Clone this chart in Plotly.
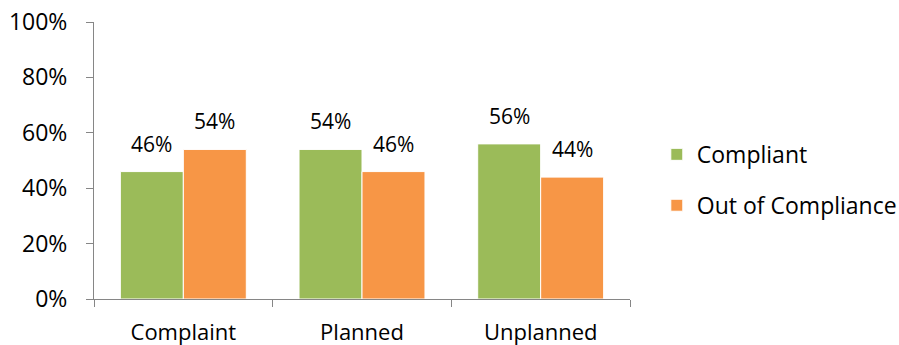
import plotly.graph_objects as go

categories = ["Complaint", "Planned", "Unplanned"]
compliant = [46, 54, 56]
out_of_compliance = [54, 46, 44]
y_ticks = [0, 20, 40, 60, 80, 100]
y_tick_labels = [f"{v}%" for v in y_ticks]

GREEN = "#9BBB59"
ORANGE = "#F79646"
AXIS = "#868686"
FAMILY = "Open Sans"
BARGAP = 0.295


def font(size):
    return dict(family=FAMILY, size=size, color="#000000")


fig = go.Figure()
series = [
    ("Compliant", compliant, GREEN, "a"),
    ("Out of Compliance", out_of_compliance, ORANGE, "b"),
]
for name, vals, color, grp in series:
    fig.add_trace(go.Bar(
        name=name,
        x=categories,
        y=vals,
        marker=dict(color=color, line=dict(color="#ffffff", width=1)),
        legendgroup=grp,
        offsetgroup=grp,
    ))

# value labels above each bar
n_series = len(series)
group_frac = 1 - BARGAP
for i, (name, vals, color, grp) in enumerate(series):
    offset = (-group_frac / 2) + group_frac / n_series * (i + 0.5)
    for j, v in enumerate(vals):
        fig.add_annotation(
            x=j + offset, y=v, xref="x", yref="y",
            text=f"{v}%", showarrow=False,
            yanchor="bottom", yshift=12,
            font=font(21),
        )

fig.update_layout(
    width=899,
    height=345,
    margin=dict(l=94, r=269, t=22, b=46, autoexpand=False),
    paper_bgcolor="white",
    plot_bgcolor="white",
    barmode="group",
    bargap=BARGAP,
    bargroupgap=0,
    font=font(22),
    showlegend=True,
    legend=dict(
        x=1.05, y=0.43, xanchor="left", yanchor="middle",
        font=font(23), tracegroupgap=18, traceorder="grouped",
        itemwidth=30,
    ),
    xaxis=dict(
        type="category", automargin=False,
        showline=True, linecolor=AXIS, linewidth=1,
        ticks="outside", tickson="boundaries", ticklen=7, tickcolor=AXIS,
        showgrid=False, tickfont=font(22), ticklabelstandoff=14,
    ),
    yaxis=dict(
        range=[0, 100], tickvals=y_ticks, ticktext=y_tick_labels,
        automargin=False,
        showline=True, linecolor=AXIS, linewidth=1,
        ticks="outside", ticklen=7, tickcolor=AXIS,
        showgrid=False, zeroline=False, tickfont=font(23),
        ticklabelstandoff=14,
    ),
)

fig.write_html("out.html")
